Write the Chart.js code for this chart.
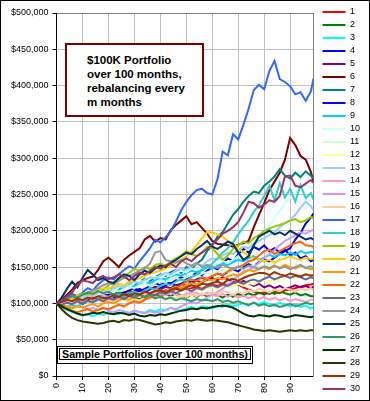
<!DOCTYPE html>
<html><head><meta charset="utf-8">
<script src="https://cdn.jsdelivr.net/npm/chart.js@4/dist/chart.umd.min.js"></script>
<style>
html,body{margin:0;padding:0;background:#fff}
#wrap{position:relative;width:370px;height:401px;overflow:hidden}
#c{position:absolute;left:0;top:0}
.t1{position:absolute;left:65px;top:43px;width:139px;height:74px;box-sizing:border-box;border:2px solid #800000;background:#fff;
 font:bold 11.5px Arial,"Liberation Sans",sans-serif;line-height:14px;padding:8px 0 0 20px;color:#000;white-space:nowrap}
.t2o{position:absolute;left:57px;top:346px;width:196px;height:18px;box-sizing:border-box;border:1px solid #000;padding:1px;background:#fff}
.t2i{box-sizing:border-box;border:1px solid #000;height:12px;font:bold 10.7px Arial,"Liberation Sans",sans-serif;line-height:10px;padding-left:2px;color:#000;white-space:nowrap}
</style></head>
<body>
<div id="wrap">
<canvas id="c" width="370" height="401"></canvas>
<div class="t1">$100K Portfolio<br>over 100 months,<br>rebalancing every<br>m months</div>
<div class="t2o"><div class="t2i">Sample Portfolios (over 100 months)</div></div>
</div>
<script>
// months at which values were read (every 2 months, plus last month)
const MONTHS = [0,2,4,6,8,10,12,14,16,18,20,22,24,26,28,30,32,34,36,38,40,42,44,46,48,50,52,54,56,58,60,62,64,66,68,70,72,74,76,78,80,82,84,86,88,90,92,94,96,98,99];
const X_TICKS = [0,10,20,30,40,50,60,70,80,90];
const Y_TICKS = [0,50,100,150,200,250,300,350,400,450,500]; // thousands of $
const SERIES_NAMES = ['1','2','3','4','5','6','7','8','9','10','11','12','13','14','15','16','17','18','19','20','21','22','23','24','25','26','27','28','29','30'];
const COLORS = ['#FF0000','#008000','#00FFFF','#0000FF','#800080','#800000','#008080','#0000FF','#00CCFF','#CCFFFF',
 '#CCFFCC','#FFFF99','#99CCFF','#FF99CC','#CC99FF','#FFCC99','#3366FF','#33CCCC','#99CC00','#FFCC00',
 '#FF9900','#FF6600','#666699','#969696','#003366','#339966','#003300','#333300','#993300','#993366'];

// portfolio values, thousands of $
const S1 = [100,103,101,105,102,106,104,108,106,110,107,111,109,113,110,114,112,116,113,117,115,118,116,120,118,119,121,123,120,124,126,124,127,125,128,126,122,119,116,114,115,113,116,114,118,119,121,123,125,126,127];
const S2 = [100,98,102,100,104,101,105,103,107,104,108,106,110,107,111,109,106,110,108,112,109,113,110,114,111,108,112,109,113,110,114,111,108,112,109,113,110,114,111,115,112,116,113,117,114,112,115,111,113,110,110];
const S3 = [100,95,91,88,86,83,85,82,86,84,88,87,85,89,86,90,88,87,91,89,92,90,94,91,90,93,95,92,96,95,93,97,95,99,96,98,100,97,101,99,102,99,97,101,98,96,99,95,97,93,95];
const S4 = [100,97,101,104,102,99,103,107,105,109,112,108,111,115,113,117,120,116,119,123,121,125,128,124,127,131,129,133,136,132,138,141,139,143,147,144,150,154,151,157,160,158,163,168,172,176,188,197,210,218,224];
const S5 = [100,102,99,103,106,104,108,105,109,112,110,113,111,115,117,114,118,116,120,122,119,123,121,125,127,124,128,131,129,133,135,132,136,133,130,127,131,128,124,127,122,125,121,124,120,122,125,122,124,121,123];
const S6 = [100,105,112,119,128,132,135,137,146,158,163,157,150,160,166,171,176,188,193,185,190,188,201,208,214,220,209,212,204,196,186,182,181,180,178,181,183,186,205,222,238,256,268,280,298,328,318,303,298,281,268];
const S7 = [100,98,103,101,106,110,108,112,115,113,118,121,119,124,128,126,130,134,131,136,140,138,143,146,142,150,148,155,160,172,180,192,198,210,222,230,240,248,254,252,262,268,275,285,276,272,280,274,282,276,272];
const S8 = [100,103,99,102,106,104,108,105,110,113,109,112,116,114,118,121,117,120,124,128,125,130,127,132,136,133,138,142,139,145,150,147,155,162,158,168,175,170,178,174,180,172,176,170,174,166,170,162,165,158,160];
const S9 = [100,102,105,103,107,110,108,112,115,113,117,120,118,122,125,123,127,130,128,132,135,133,137,140,138,142,145,143,147,150,148,152,155,153,157,160,158,162,165,160,163,167,164,168,166,170,167,172,169,171,170];
const S10 = [100,102,99,104,107,105,110,113,111,116,119,117,122,125,123,128,131,129,134,137,135,140,138,142,145,143,148,146,150,153,151,155,158,156,160,165,170,176,184,192,200,206,218,228,238,246,252,258,263,260,258];
const S11 = [100,102,105,103,107,110,108,112,115,113,117,119,116,120,123,121,125,127,124,128,131,129,133,135,132,136,139,137,141,143,140,144,146,143,147,150,147,151,153,150,152,155,152,149,152,150,153,151,148,151,150];
const S12 = [100,101,98,102,100,104,101,103,106,104,107,105,108,110,107,111,109,112,110,113,115,112,116,114,117,119,116,120,118,121,123,120,124,122,125,127,124,128,126,130,132,129,133,131,135,137,134,138,140,139,140];
const S13 = [100,103,101,106,109,107,112,110,115,118,116,121,124,122,127,130,128,133,136,134,139,142,140,145,148,146,151,155,152,158,162,160,166,170,168,174,178,176,182,186,190,194,198,205,210,215,222,232,240,234,228];
const S14 = [100,103,105,102,106,104,107,110,108,111,109,112,114,111,115,113,110,114,112,116,113,111,115,112,110,113,116,114,111,115,112,110,113,109,112,108,111,107,110,106,109,105,108,104,107,103,106,104,102,105,105];
const S15 = [100,98,96,94,97,95,92,94,91,93,90,88,91,89,87,90,88,86,89,87,88,91,94,92,96,99,102,100,104,108,112,116,120,126,132,138,144,146,150,156,162,168,174,180,186,190,194,198,196,200,201];
const S16 = [100,98,101,103,100,104,102,106,104,101,105,103,107,105,102,106,104,108,106,110,108,105,109,107,111,109,112,110,114,112,115,113,117,115,112,116,114,118,116,120,118,115,119,117,121,119,116,120,118,121,118];
const S17 = [100,104,108,113,110,115,121,118,126,132,136,133,140,146,151,148,158,167,176,188,184,191,199,213,228,240,249,256,258,252,250,271,309,304,333,326,346,368,394,401,395,420,434,409,405,399,388,391,379,392,410];
const S18 = [100,97,95,98,96,100,103,101,105,108,106,110,112,109,114,116,113,118,121,119,124,127,125,130,133,131,136,140,145,150,155,162,170,176,184,195,205,214,226,235,248,262,242,266,246,258,240,263,245,252,243];
const S19 = [100,104,108,106,111,114,112,117,121,119,125,129,133,138,142,148,145,150,147,153,155,152,158,162,166,172,168,165,170,178,176,168,160,166,175,180,185,183,190,194,200,203,206,208,211,214,216,212,214,219,217];
const S20 = [100,104,107,105,110,112,115,113,118,121,120,124,127,125,130,132,135,138,141,143,145,148,152,156,160,165,172,180,190,198,198,195,192,186,182,176,170,166,162,160,158,160,156,160,162,165,162,160,163,161,162];
const S21 = [100,97,95,93,96,94,97,99,96,100,102,100,104,107,105,110,112,109,114,117,118,116,120,123,121,125,128,126,130,133,132,135,133,137,140,138,142,146,144,148,150,147,152,149,153,150,148,152,149,147,148];
const S22 = [100,96,93,90,88,90,92,89,91,94,92,95,98,96,100,103,101,105,108,112,115,118,116,121,125,130,133,131,136,134,138,141,139,144,148,150,153,158,160,166,172,174,168,172,176,180,183,185,180,179,178];
const S23 = [100,98,101,99,103,100,104,102,106,103,107,105,109,106,110,108,112,109,113,111,115,113,117,114,118,120,117,121,119,123,125,122,126,124,128,130,127,131,133,130,134,137,133,136,138,135,138,136,133,136,135];
const S24 = [100,103,106,110,108,112,115,118,121,125,128,126,131,135,138,141,145,148,155,170,172,160,158,156,160,155,152,156,150,153,151,149,153,150,147,151,148,152,150,147,151,149,152,148,151,147,150,153,149,151,150];
const S25 = [100,108,120,130,122,135,146,140,132,135,130,128,135,140,138,132,140,145,142,148,152,150,156,160,165,170,168,175,180,186,178,175,180,185,182,170,160,165,180,192,196,200,195,198,194,200,196,192,188,190,188];
const S26 = [100,104,107,110,108,112,115,113,117,114,116,112,115,111,114,110,112,108,111,107,109,106,108,104,107,105,103,106,104,105,103,106,102,104,101,103,100,98,101,97,99,96,98,95,97,99,96,98,101,99,100];
const S27 = [100,96,92,89,86,84,85,87,86,88,86,85,87,86,84,86,83,82,84,83,85,84,86,88,90,91,93,92,94,93,95,96,97,96,94,90,86,83,82,84,83,82,84,83,81,82,84,83,82,81,82];
const S28 = [100,92,85,80,77,75,74,73,72,73,75,76,74,77,76,78,77,75,73,71,72,74,73,75,76,77,76,78,77,76,77,76,75,74,72,70,68,66,64,63,62,63,62,61,62,63,62,63,62,63,63];
const S29 = [100,102,105,103,107,104,108,106,110,107,108,111,109,113,110,114,112,116,114,117,118,115,119,121,118,122,125,123,127,126,128,130,127,132,134,131,135,138,140,142,142,139,143,140,138,141,139,137,140,138,139];
const S30 = [100,104,110,115,125,132,130,128,135,138,133,136,140,137,132,138,142,140,145,150,148,152,155,150,158,162,158,165,170,175,182,188,196,200,205,212,225,240,238,232,236,242,240,248,275,276,262,260,265,270,266];

const SERIES = [S1,S2,S3,S4,S5,S6,S7,S8,S9,S10,S11,S12,S13,S14,S15,S16,S17,S18,S19,S20,S21,S22,S23,S24,S25,S26,S27,S28,S29,S30];

const FONT = 'Arial, "Liberation Sans", sans-serif';

const datasets = SERIES.map((arr, i) => ({
  label: SERIES_NAMES[i],
  data: arr.map((v, j) => ({x: MONTHS[j], y: v})),
  borderColor: COLORS[i],
  backgroundColor: COLORS[i],
  borderWidth: 2,
  pointRadius: 0,
  tension: 0,
  fill: false,
  order: SERIES.length - i
}));

const frame = {
  id: 'frame',
  afterDraw(chart) {
    const ctx = chart.ctx;
    ctx.save();
    ctx.strokeStyle = '#000';
    ctx.lineWidth = 1;
    ctx.strokeRect(0.5, 0.5, chart.width - 1, chart.height - 1);
    ctx.restore();
  }
};

new Chart(document.getElementById('c'), {
  type: 'line',
  data: {datasets},
  plugins: [frame],
  options: {
    responsive: false,
    animation: false,
    devicePixelRatio: 1,
    layout: {padding: {left: 7, right: 0, top: 0, bottom: 0}},
    plugins: {
      tooltip: {enabled: false},
      legend: {
        position: 'right',
        align: 'center',
        labels: {
          usePointStyle: true,
          pointStyle: 'line',
          pointStyleWidth: 23,
          padding: 4,
          color: '#000',
          font: {family: FONT, size: 9},
          sort: (a, b) => a.datasetIndex - b.datasetIndex
        }
      }
    },
    scales: {
      x: {
        type: 'linear', position: 'bottom', min: 0, max: 99,
        afterBuildTicks: s => { s.ticks = X_TICKS.map(v => ({value: v})); },
        afterFit: s => { s.height = 25; },
        ticks: {minRotation: 90, maxRotation: 90, autoSkip: false, color: '#000', font: {family: FONT, size: 9}, padding: 3},
        grid: {color: '#C0C0C0', tickColor: '#000', tickLength: 4, lineWidth: 1},
        border: {color: '#000', width: 1}
      },
      xTop: {
        type: 'linear', position: 'top', min: 0, max: 99,
        ticks: {display: false},
        grid: {display: false},
        border: {display: true, color: '#808080', width: 1},
        afterFit: s => { s.height = 13; }
      },
      y: {
        type: 'linear', position: 'left', min: 0, max: 500,
        afterBuildTicks: s => { s.ticks = Y_TICKS.map(v => ({value: v})); },
        ticks: {color: '#000', font: {family: FONT, size: 9}, padding: 4,
          callback: v => '$' + (v * 1000).toLocaleString('en-US')},
        grid: {color: '#C0C0C0', tickColor: '#000', tickLength: 4, lineWidth: 1},
        border: {color: '#000', width: 1}
      },
      yRight: {
        type: 'linear', position: 'right', min: 0, max: 500,
        ticks: {display: false},
        grid: {display: false},
        border: {display: true, color: '#808080', width: 1},
        afterFit: s => { s.width = 5; }
      }
    }
  }
});
</script>
</body></html>
